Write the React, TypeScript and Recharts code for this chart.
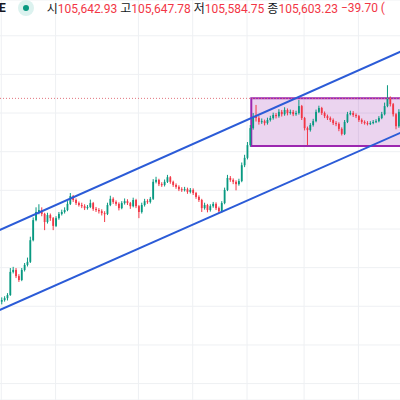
import {
  BarChart,
  Bar,
  XAxis,
  YAxis,
  CartesianGrid,
  ReferenceLine,
  ReferenceArea,
} from "recharts";

const firstOpen = 100120;
const closes = [
  100160, 100210, 100290, 100890, 100940, 100780, 100680, 100940, 101070, 101150,
  101710, 102230, 102440, 102490, 102390, 102180, 102360, 102280, 102080, 102280,
  102390, 102440, 102490, 102650, 102850, 102750, 102670, 102620, 102590, 102540,
  102570, 102670, 102520, 102490, 102460, 102410, 102390, 102620, 102780, 102700,
  102650, 102540, 102670, 102720, 102670, 102590, 102750, 102590, 102440, 102620,
  102720, 102700, 102780, 103220, 103270, 103160, 103140, 103220, 103340, 103220,
  103140, 103090, 103030, 103010, 103030, 102960, 103010, 102930, 102830, 102750,
  102540, 102620, 102490, 102590, 102650, 102540, 102460, 102670, 103010, 103320,
  103270, 103220, 103160, 103240, 103650, 103840, 104170, 104610, 104900, 104870,
  104770, 104790, 104740, 104820, 104870, 104950, 104920, 105030, 104970, 105080,
  105000, 105030, 104970, 105000, 105180, 104870, 104610, 104560, 104690, 104790,
  105030, 105130, 105000, 104920, 104870, 104820, 104740, 104720, 104590, 104460,
  104770, 104970, 105000, 104950, 104920, 104820, 104770, 104740, 104720, 104740,
  104770, 104790, 104870, 104970, 105180, 105390, 105230, 104970, 104660, 105030,
];
const highs = [
  100230, 100260, 100340, 100990, 101020, 100990, 100830, 100990, 101120, 101260,
  101800, 102300, 102560, 102640, 102560, 102420, 102420, 102400, 102310, 102330,
  102440, 102500, 102560, 102720, 102930, 102880, 102790, 102710, 102680, 102640,
  102620, 102760, 102700, 102570, 102540, 102510, 102460, 102680, 102860, 102820,
  102740, 102690, 102720, 102790, 102770, 102700, 102810, 102780, 102620, 102680,
  102780, 102770, 102830, 103290, 103350, 103300, 103210, 103280, 103400, 103370,
  103250, 103180, 103130, 103080, 103090, 103070, 103060, 103050, 102960, 102870,
  102780, 102680, 102650, 102640, 102700, 102690, 102580, 102720, 103070, 103400,
  103370, 103310, 103260, 103300, 103720, 103920, 104250, 104690, 105000, 105210,
  104920, 104860, 104830, 104880, 104930, 105010, 105000, 105100, 105080, 105150,
  105120, 105090, 105080, 105060, 105340, 105210, 104900, 104650, 104740, 104850,
  105090, 105190, 105160, 105040, 104960, 104910, 104860, 104790, 104760, 104630,
  104820, 105030, 105060, 105050, 104990, 104950, 104860, 104810, 104790, 104790,
  104820, 104840, 104920, 105030, 105270, 105720, 105430, 105260, 105000, 105100,
];
const lows = [
  100050, 100120, 100150, 100270, 100850, 100730, 100630, 100650, 100900, 101030,
  101120, 101680, 102200, 102380, 102330, 101970, 102140, 102210, 101970, 102050,
  102240, 102350, 102400, 102460, 102620, 102700, 102620, 102580, 102540, 102490,
  102500, 102540, 102470, 102440, 102400, 102350, 102180, 102360, 102590, 102650,
  102600, 102480, 102510, 102630, 102620, 102520, 102560, 102540, 102280, 102400,
  102580, 102650, 102660, 102750, 103180, 103110, 103090, 103100, 103190, 103170,
  103090, 103040, 102980, 102960, 102970, 102910, 102920, 102880, 102780, 102700,
  102440, 102500, 102430, 102450, 102550, 102490, 102410, 102430, 102640, 102980,
  103220, 103160, 103000, 103120, 103210, 103600, 103800, 104130, 104570, 104780,
  104700, 104720, 104680, 104700, 104780, 104830, 104860, 104880, 104910, 104930,
  104940, 104960, 104920, 104930, 104960, 104820, 104550, 104170, 104520, 104650,
  104760, 105000, 104950, 104870, 104820, 104770, 104690, 104660, 104530, 104420,
  104430, 104740, 104940, 104900, 104870, 104770, 104720, 104700, 104680, 104690,
  104710, 104740, 104760, 104840, 104940, 105150, 105170, 104910, 104580, 104620,
];

// empty slots before / after the candles (chart runs past the frame)
const padBefore = 1;
const padAfter = 7;
const gridCandles = [0, 19, 48, 67, 86, 106, 125];
const priceTicks = [98000, 99000, 100000, 101000, 102000, 103000, 104000, 105000, 106000, 107000];
const upperChannel = [101958, 106793];
const lowerChannel = [99888, 104695];
const boxFromCandle = 88;
const boxTop = 105380;
const boxBottom = 104150;
const priceLevel = 105380;

const ohlcLabels = ["시", "고", "저", "종"];
const ohlcValues = ["105,642.93", "105,647.78", "105,584.75", "105,603.23"];
const changeText = "−39.70 (";

const UP = "#089981";
const DOWN = "#f23645";

type Row = { t: number; open?: number; high?: number; low?: number; close?: number };

const rows: Row[] = [];
for (let k = 0; k < padBefore; k++) rows.push({ t: rows.length });
closes.forEach((c, i) => {
  rows.push({
    t: rows.length,
    open: i === 0 ? firstOpen : closes[i - 1],
    close: c,
    high: highs[i],
    low: lows[i],
  });
});
for (let k = 0; k < padAfter; k++) rows.push({ t: rows.length });
const lastT = rows.length - 1;

function Candle(props: any) {
  const { x, y, width, height, payload } = props;
  if (!payload || payload.open == null) return null;
  const { open, close, high, low } = payload;
  const h = Math.abs(height);
  const top = height < 0 ? y + height : y;
  const ratio = h / (high - low || 1);
  const yo = top + (high - open) * ratio;
  const yc = top + (high - close) * ratio;
  const color = close >= open ? UP : DOWN;
  const cx = x + width / 2;
  return (
    <g>
      <line x1={cx} x2={cx} y1={top} y2={top + h} stroke={color} strokeWidth={1} />
      <rect
        x={x}
        y={Math.min(yo, yc)}
        width={width}
        height={Math.max(1, Math.abs(yc - yo))}
        fill={color}
      />
    </g>
  );
}

const band = 400 / closes.length;

export default function App() {
  return (
    <div
      style={{
        position: "fixed",
        left: 0,
        top: 0,
        width: 400,
        height: 400,
        overflow: "hidden",
        background: "#fff",
      }}
    >
      <div style={{ position: "absolute", left: -band * padBefore, top: 0 }}>
        <BarChart
          width={band * rows.length}
          height={400}
          data={rows}
          margin={{ top: 0, right: 0, bottom: 0, left: 0 }}
          barGap={0}
        >
          <CartesianGrid stroke="#eef0f3" strokeWidth={1} />
          <XAxis
            dataKey="t"
            hide
            ticks={gridCandles.map((i) => i + padBefore)}
            interval={0}
          />
          <YAxis hide domain={[97575, 107925]} ticks={priceTicks} allowDataOverflow />
          <ReferenceLine
            y={priceLevel}
            stroke="#e0707a"
            strokeDasharray="1 2"
            strokeWidth={1}
          />
          <Bar
            dataKey={(d: Row) => (d.open == null ? null : [d.low, d.high])}
            barSize={1.8}
            shape={(p: any) => <Candle {...p} />}
            isAnimationActive={false}
          />
          <ReferenceArea
            x1={boxFromCandle + padBefore}
            x2={lastT}
            y1={boxBottom}
            y2={boxTop}
            fill="#9c27b0"
            fillOpacity={0.2}
            stroke="#9c27b0"
            strokeWidth={2}
            strokeOpacity={1}
            ifOverflow="visible"
          />
          <ReferenceLine
            segment={[
              { x: 0, y: upperChannel[0] },
              { x: lastT, y: upperChannel[1] },
            ]}
            stroke="#2b5bd7"
            strokeWidth={2}
            ifOverflow="visible"
          />
          <ReferenceLine
            segment={[
              { x: 0, y: lowerChannel[0] },
              { x: lastT, y: lowerChannel[1] },
            ]}
            stroke="#2b5bd7"
            strokeWidth={2}
            ifOverflow="visible"
          />
        </BarChart>
      </div>

      <div
        style={{
          position: "absolute",
          left: 0,
          top: 1,
          height: 14,
          width: 400,
          display: "flex",
          alignItems: "center",
          whiteSpace: "nowrap",
          fontFamily: "Roboto, 'Noto Sans CJK KR', sans-serif",
          fontSize: 12,
          lineHeight: "14px",
        }}
      >
        <span style={{ fontWeight: 700, color: "#131722", marginLeft: -1 }}>E</span>
        <span
          style={{
            marginLeft: 12,
            width: 16,
            height: 16,
            borderRadius: 8,
            background: "#dcf2ef",
            display: "inline-flex",
            alignItems: "center",
            justifyContent: "center",
          }}
        >
          <span style={{ width: 6, height: 6, borderRadius: 3, background: UP }} />
        </span>
        <span style={{ marginLeft: 13 }} />
        {ohlcLabels.map((l, i) => (
          <span key={l} style={{ marginRight: 3 }}>
            <span style={{ color: "#131722", fontFamily: "'Noto Sans CJK KR', sans-serif" }}>{l}</span>
            <span style={{ color: DOWN }}>{ohlcValues[i]}</span>
          </span>
        ))}
        <span style={{ color: DOWN }}>{changeText}</span>
      </div>
    </div>
  );
}
